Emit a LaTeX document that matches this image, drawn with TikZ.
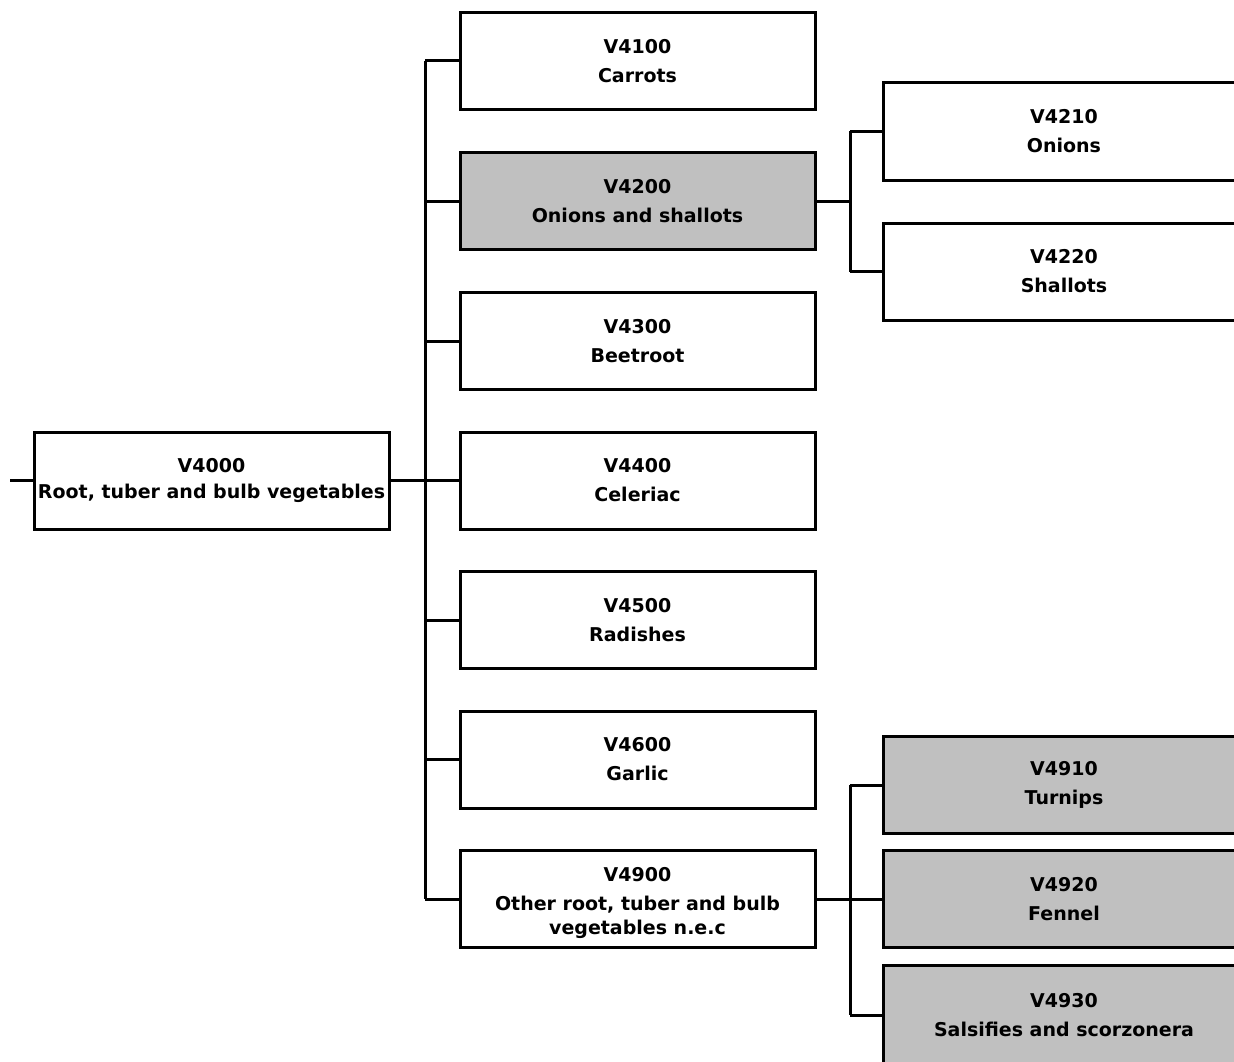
\documentclass[tikz,border=0pt]{standalone}
\usepackage{fontspec}
\setmainfont{DejaVu Sans}
\begin{document}
\begin{tikzpicture}[x=1pt,y=-1pt,
  box/.style={draw=black, line width=3pt, fill=white, minimum width=355pt,
    minimum height=97pt, inner sep=0pt, align=center,
    font=\bfseries\fontsize{19}{29}\selectfont},
  greybox/.style={box, fill=boxgrey},
  link/.style={draw=black, line width=3pt}]
\definecolor{boxgrey}{HTML}{C0C0C0}
\useasboundingbox (0,0) rectangle (1234,1062);
\clip (0,0) rectangle (1234,1062);

% root of the tree
\node[box, font=\bfseries\fontsize{19}{26}\selectfont] (root) at (211.5,480.5)
  {V4000\\Root, tuber and bulb vegetables};
\coordinate (stub) at (10,480.5);

% second level
\node[box]     (v4100) at (637.5,61)  {V4100\\Carrots};
\node[greybox] (v4200) at (637.5,201) {V4200\\Onions and shallots};
\node[box]     (v4300) at (637.5,341) {V4300\\Beetroot};
\node[box]     (v4400) at (637.5,480.5) {V4400\\Celeriac};
\node[box]     (v4500) at (637.5,620) {V4500\\Radishes};
\node[box]     (v4600) at (637.5,759.5) {V4600\\Garlic};
\node[box, font=\bfseries\fontsize{19}{24}\selectfont] (v4900) at (637.5,899)
  {\rule{0pt}{22.5pt}V4900\\[5pt]Other root, tuber and bulb\\vegetables n.e.c};

% third level
\node[box, minimum width=362pt]     (v4210) at (1064,131.5) {V4210\\Onions};
\node[box, minimum width=362pt]     (v4220) at (1064,271.5) {V4220\\Shallots};
\node[greybox, minimum width=362pt] (v4910) at (1064,785)   {V4910\\Turnips};
\node[greybox, minimum width=362pt] (v4920) at (1064,899)   {V4920\\Fennel};
\node[greybox, minimum width=362pt, minimum height=100pt]
  (v4930) at (1064,1015) {V4930\\Salsifies and scorzonera};

% spine joints
\coordinate (spineA) at (425,0);
\coordinate (spineB) at (850,0);

% connectors
\draw[link] (stub) -- (root.west);
\draw[link] (root.east) -- (root.east -| spineA);
\draw[link] (v4100.west -| spineA) -- (v4900.west -| spineA);
\foreach \n in {v4100,v4200,v4300,v4400,v4500,v4600,v4900}
  \draw[link] (\n.west -| spineA) -- (\n.west);

\draw[link] (v4200.east) -- (v4200.east -| spineB);
\draw[link] (v4210.west -| spineB) -- (v4220.west -| spineB);
\foreach \n in {v4210,v4220}
  \draw[link] (\n.west -| spineB) -- (\n.west);

\draw[link] (v4900.east) -- (v4900.east -| spineB);
\draw[link] (v4910.west -| spineB) -- (v4930.west -| spineB);
\foreach \n in {v4910,v4920,v4930}
  \draw[link] (\n.west -| spineB) -- (\n.west);
\end{tikzpicture}
\end{document}
